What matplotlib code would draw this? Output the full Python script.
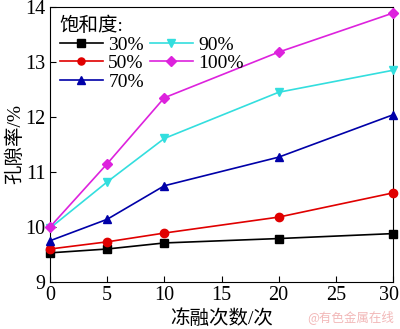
import matplotlib
matplotlib.use("Agg")
import matplotlib.pyplot as plt
import matplotlib.transforms as mtransforms

plt.rcParams['font.family'] = ['Liberation Serif', 'Noto Sans CJK SC']
plt.rcParams['axes.unicode_minus'] = False

cycles = [0, 5, 10, 20, 30]
s30 = [9.53, 9.60, 9.71, 9.79, 9.88]
s50 = [9.60, 9.73, 9.89, 10.18, 10.62]
s70 = [9.75, 10.14, 10.75, 11.27, 12.04]
s90 = [9.98, 10.82, 11.61, 12.45, 12.85]
s100 = [10.00, 11.15, 12.35, 13.18, 13.89]
labels = ['30%', '50%', '70%', '90%', '100%']
xticks = [0, 5, 10, 15, 20, 25, 30]
yticks = [9, 10, 11, 12, 13, 14]

fig = plt.figure(figsize=(4.0, 3.29), dpi=100)
ax = fig.add_axes([50/400, 47/329, 343/400, 275/329])

styles = [
    (s30, '#000000', 's'),
    (s50, '#e00000', 'o'),
    (s70, '#0000a8', '^'),
    (s90, '#33dede', 'v'),
    (s100, '#dd22dd', 'D'),
]
for (vals, c, m), lab in zip(styles, labels):
    ms = 6 if m != 'D' else 5.5
    ax.plot(cycles, vals, color=c, marker=m, markersize=ms, linewidth=1.2,
            label=lab, clip_on=False, zorder=3)

ax.set_xlim(0, 30)
ax.set_ylim(9, 14)
ax.set_xticks(xticks)
ax.set_yticks(yticks)
ax.tick_params(direction='in', length=4, width=0.8, labelsize=14.5, pad=3)
for sp in ax.spines.values():
    sp.set_linewidth(0.8)

# nudge the last x tick label inward so it stays inside the figure
lbls = ax.get_xticklabels()
off = mtransforms.ScaledTranslation(-4/100, 0, fig.dpi_scale_trans)
lbls[-1].set_transform(lbls[-1].get_transform() + off)

ax.set_xlabel('冻融次数/次', fontsize=14, labelpad=3)
ax.set_ylabel('孔隙率/%', fontsize=14, labelpad=1)

leg = ax.legend(ncol=2, title='饱和度:', frameon=False, loc='upper left',
                fontsize=14, title_fontsize=14, alignment='left',
                handlelength=2.2, handletextpad=0.3, columnspacing=0.3,
                labelspacing=0.05, borderaxespad=0.3, borderpad=0.2,
                markerscale=0.85)

fig.text(0.985, 0.015, '@有色金属在线', fontsize=9, color='#f2b8b8',
         ha='right', va='bottom', family=['Noto Sans CJK SC'])

fig.savefig('out.png', dpi=100)
